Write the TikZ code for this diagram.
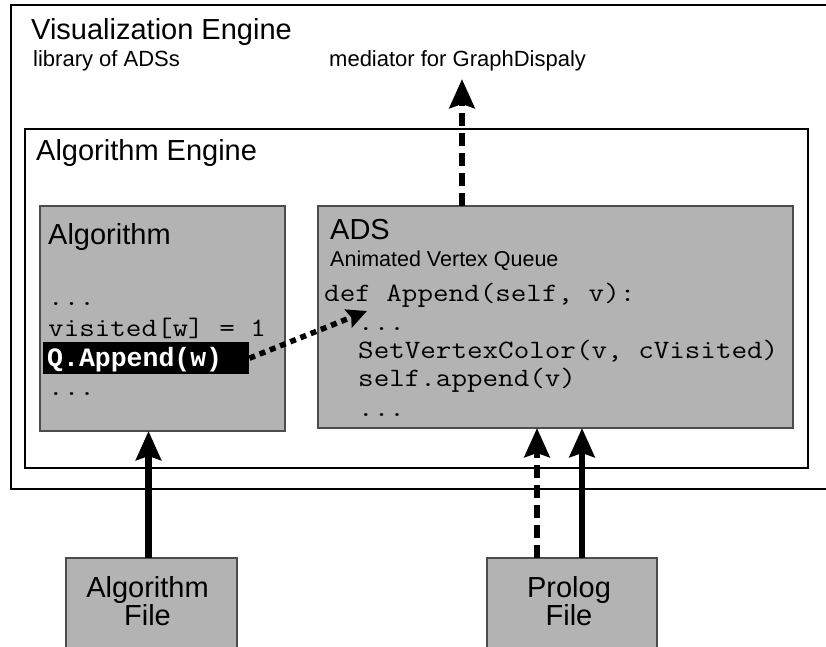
\documentclass[tikz,border=0pt]{standalone}
\usepackage{fontspec}
\setmainfont{Liberation Sans}
\setsansfont{Liberation Sans}
\setmonofont{Liberation Mono}
\newfontfamily\codefont{Latin Modern Mono}[FakeStretch=1.14]
\usetikzlibrary{arrows.meta,calc}
\definecolor{boxgray}{HTML}{B3B3B3}
\tikzset{
  frame/.style={draw=black, line width=2.8pt, fill=none},
  graybox/.style={draw=black!70, line width=1.2pt, fill=boxgray, inner sep=0pt, outer sep=0pt, anchor=north west},
  lbl/.style={anchor=base west, inner sep=0pt, font=\fontsize{#1}{#1}\selectfont},
  code/.style={anchor=base west, inner sep=0pt, font=\fontsize{26.5}{27}\codefont},
  bigtip/.style={-{Stealth[length=29pt,width=25pt,inset=4pt]}},
  solidarrow/.style={bigtip, line width=6.5pt},
  dasharrow/.style={bigtip, line width=6.5pt, dash pattern=on 13pt off 7pt},
  dotarrow/.style={-{Stealth[length=20pt,width=19pt,inset=3pt]}, line width=5.5pt, dash pattern=on 6pt off 5pt},
  filetext/.style={anchor=north, align=center, inner sep=0pt, font=\fontsize{29}{28}\selectfont},
}
\begin{document}
\begin{tikzpicture}[x=1pt,y=-1pt]
\useasboundingbox (0,0) rectangle (826,646);
\clip (0,0) rectangle (826,646);
% outer frame
\draw[frame] (11,5) rectangle (860,489);
\node[lbl=29] (ve) at (31,39) {Visualization Engine};
\node[lbl=22] (lib) at (33,66) {library of ADSs};
\node[lbl=22] (med) at (329,66) {mediator for GraphDispaly};
% inner frame
\draw[frame] (25,129) rectangle (808,468);
\node[lbl=29] (ae) at (36,160) {Algorithm Engine};
% algorithm box
\node[graybox, minimum width=245pt, minimum height=225pt] (alg) at (40,206) {};
\node[lbl=29] (algt) at (48,244) {Algorithm};
\node[code] (a1) at (48,305) {...};
\node[code] (a2) at (48,336) {visited[w] = 1};
\node[fill=black, anchor=north west, inner sep=0pt, minimum width=206pt, minimum height=32pt] (qbox) at (43,342) {};
\node[anchor=base west, inner sep=0pt, text=white, font=\fontsize{26.5}{27}\ttfamily\bfseries] (qa) at (47,366) {Q.Append(w)};
\node[code] (a4) at (48,395) {...};
% ADS box
\node[graybox, minimum width=475pt, minimum height=222pt] (ads) at (318,206) {};
\node[lbl=29] (adst) at (330,239) {ADS};
\node[lbl=21.5] (avq) at (330,266) {Animated Vertex Queue};
\node[code] (d1) at (324,301) {def Append(self, v):};
\node[code] (d2) at (358,330) {...};
\node[code] (d3) at (358,358) {SetVertexColor(v, cVisited)};
\node[code] (d4) at (358,386) {self.append(v)};
\node[code] (d5) at (358,416) {...};
% files
\node[graybox, minimum width=171pt, minimum height=100pt] (algfile) at (66,558) {};
\node[filetext] (algfilet) at ($(algfile.north)+(-4,18)$) {Algorithm\\File};
\node[graybox, minimum width=170pt, minimum height=100pt] (prolog) at (487,558) {};
\node[filetext] (prologt) at ($(prolog.north)+(-3,18)$) {Prolog\\File};
% arrows
\coordinate (medtip) at (462,79);
\draw[dasharrow] (ads.north -| medtip) -- (medtip);
\coordinate (dotstip) at (367,311);
\draw[dotarrow] (qbox.east) -- (dotstip);
\draw[solidarrow] ([xshift=-3pt]algfile.north) -- ([xshift=-3pt]algfile.north |- alg.south);
\draw[dasharrow] ([xshift=50pt]prolog.north west) -- ([xshift=50pt]prolog.north west |- ads.south);
\draw[solidarrow] ([xshift=95pt]prolog.north west) -- ([xshift=95pt]prolog.north west |- ads.south);
\end{tikzpicture}
\end{document}
